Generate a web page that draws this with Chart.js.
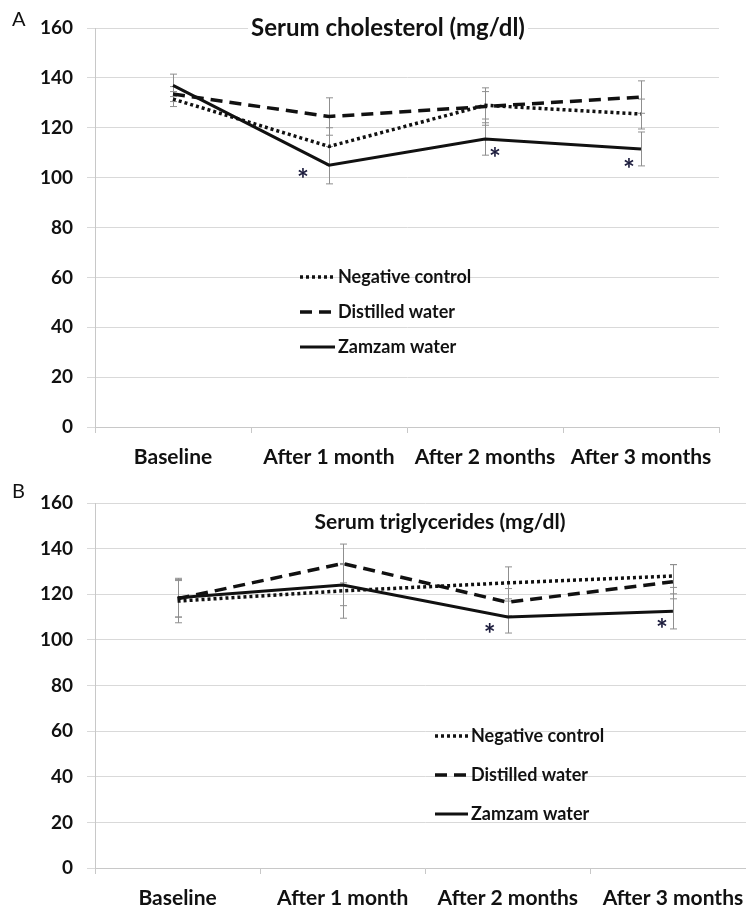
<!DOCTYPE html>
<html>
<head>
<meta charset="utf-8">
<script src="https://cdn.jsdelivr.net/npm/chart.js@4.4.1/dist/chart.umd.min.js"></script>
<style>
  html, body { margin: 0; padding: 0; background: #fff; }
  #wrap { position: relative; width: 746px; height: 909px; overflow: hidden; }
  canvas { position: absolute; left: 0; }
  #graficoA { top: 0; }
  #graficoB { top: 470px; }
</style>
</head>
<body>
<div id="wrap">
  <canvas id="graficoA" width="746" height="470"></canvas>
  <canvas id="graficoB" width="770" height="439"></canvas>
</div>
<script>
// categorias e escala
const categorias = ['Baseline', 'After 1 month', 'After 2 months', 'After 3 months'];
const yMin = 0;
const yMax = 160;
const yPasso = 20;
const series = ['Negative control', 'Distilled water', 'Zamzam water'];

// A - colesterol (mg/dl)
const colNegativo = [131.5, 112.5, 129, 125.5];
const colDestilada = [133.5, 124.5, 128.5, 132.3];
const colZamzam = [137, 105, 115.5, 111.5];
const colNegativoDp = [3, 7.5, 5.5, 6];
const colDestiladaDp = [3, 7.5, 7.5, 6.5];
const colZamzamDp = [4.5, 7.5, 6.5, 6.8];
const colSignificativo = [false, true, true, true];

// B - triglicerideos (mg/dl)
const trigNegativo = [117, 121.5, 125, 128];
const trigDestilada = [118, 133.5, 116.5, 125.5];
const trigZamzam = [118.5, 124, 110, 112.5];
const trigNegativoDp = [9.5, 12, 7, 5];
const trigDestiladaDp = [8, 8.5, 6, 7.5];
const trigZamzamDp = [8.5, 9, 7, 7.7];
const trigSignificativo = [false, false, true, true];

const FONTE = 'Lato, "Open Sans", sans-serif';
const PRETO = '#111111';

document.addEventListener('DOMContentLoaded', function() {

    const errorBars = {
        id: 'errorBars',
        beforeDatasetsDraw(chart) {
            const ctx = chart.ctx;
            const xs = chart.scales.x;
            const ys = chart.scales.y;
            ctx.save();
            ctx.strokeStyle = '#8f8f8f';
            ctx.lineWidth = 1;
            chart.data.datasets.forEach(ds => {
                ds.dp.forEach((dp, i) => {
                    const px = Math.round(xs.getPixelForValue(i)) + 0.5;
                    const topo = ys.getPixelForValue(ds.data[i] + dp);
                    const base = ys.getPixelForValue(ds.data[i] - dp);
                    ctx.beginPath();
                    ctx.moveTo(px, topo); ctx.lineTo(px, base);
                    ctx.moveTo(px - 3.5, topo); ctx.lineTo(px + 3.5, topo);
                    ctx.moveTo(px - 3.5, base); ctx.lineTo(px + 3.5, base);
                    ctx.stroke();
                });
            });
            ctx.restore();
        }
    };

    const textos = {
        id: 'textos',
        afterDraw(chart, args, o) {
            const ctx = chart.ctx;
            const xs = chart.scales.x;
            const ys = chart.scales.y;
            ctx.save();

            // letra do painel
            ctx.fillStyle = PRETO;
            ctx.font = '20px ' + FONTE;
            ctx.textAlign = 'left';
            ctx.textBaseline = 'middle';
            ctx.fillText(o.letra, 12, o.letraY);

            // titulo com fundo branco
            ctx.font = 'bold ' + o.tituloTam + 'px ' + FONTE;
            ctx.textAlign = 'center';
            const w = ctx.measureText(o.titulo).width;
            ctx.fillStyle = '#ffffff';
            ctx.fillRect(o.tituloX - w / 2 - 3, o.tituloY - 13, w + 6, 26);
            ctx.fillStyle = PRETO;
            ctx.fillText(o.titulo, o.tituloX, o.tituloY);

            // legenda
            chart.data.datasets.forEach((ds, i) => {
                const ly = o.legY[i];
                ctx.beginPath();
                ctx.setLineDash(ds.borderDash || []);
                ctx.lineWidth = ds.borderWidth;
                ctx.strokeStyle = ds.borderColor;
                ctx.moveTo(o.legX, ly);
                ctx.lineTo(o.legX + o.legLen, ly);
                ctx.stroke();
                ctx.setLineDash([]);
                ctx.font = 'bold 18px ' + FONTE;
                ctx.textAlign = 'left';
                ctx.fillStyle = PRETO;
                ctx.fillText(ds.label, o.legX + o.legLen + 3, ly);
            });

            // asteriscos
            const zamzam = chart.data.datasets[2];
            ctx.font = 'bold 28px ' + FONTE;
            ctx.textAlign = 'center';
            ctx.fillStyle = '#1b1b3c';
            o.signif.forEach((s, i) => {
                if (!s) return;
                const px = xs.getPixelForValue(i) + o.astDx[i];
                const py = ys.getPixelForValue(zamzam.data[i]) + o.astDy[i];
                ctx.fillText('*', px, py);
            });
            ctx.restore();
        }
    };

    function montarDatasets(neg, dest, zam, negDp, destDp, zamDp) {
        return [
            { label: series[0], data: neg, dp: negDp, borderColor: PRETO, borderWidth: 3.5, borderDash: [3, 3] },
            { label: series[1], data: dest, dp: destDp, borderColor: PRETO, borderWidth: 3.5, borderDash: [12, 7] },
            { label: series[2], data: zam, dp: zamDp, borderColor: PRETO, borderWidth: 3 }
        ];
    }

    function criarGrafico(id, datasets, cfg) {
        const ctx = document.getElementById(id).getContext('2d');
        return new Chart(ctx, {
            type: 'line',
            data: { labels: categorias, datasets: datasets },
            options: {
                responsive: false,
                animation: false,
                devicePixelRatio: 1,
                layout: { padding: { top: cfg.padTop, right: cfg.padRight, left: 0, bottom: 0 } },
                elements: {
                    point: { radius: 0 },
                    line: { tension: 0, fill: false, borderCapStyle: 'butt' }
                },
                plugins: {
                    legend: { display: false },
                    tooltip: { enabled: false },
                    textos: cfg.textos
                },
                scales: {
                    x: {
                        offset: true,
                        grid: { offset: true, drawOnChartArea: false, tickLength: 6, color: '#c8c8c8' },
                        border: { color: '#c8c8c8' },
                        ticks: { padding: 12, maxRotation: 0, autoSkip: false, color: PRETO,
                                 font: { family: FONTE, weight: 'bold', size: 21 } },
                        afterFit: s => { s.height = cfg.xAltura; }
                    },
                    y: {
                        min: yMin,
                        max: yMax,
                        grid: { color: '#d9d9d9', tickLength: 8 },
                        border: { color: '#c8c8c8' },
                        ticks: { stepSize: yPasso, padding: 14, color: PRETO,
                                 font: { family: FONTE, weight: 'bold', size: 19 } },
                        afterFit: s => { s.width = 95; }
                    }
                }
            },
            plugins: [errorBars, textos]
        });
    }

    criarGrafico('graficoA',
        montarDatasets(colNegativo, colDestilada, colZamzam, colNegativoDp, colDestiladaDp, colZamzamDp),
        {
            padTop: 28, padRight: 27, xAltura: 43,
            textos: {
                letra: 'A', letraY: 20,
                titulo: 'Serum cholesterol (mg/dl)', tituloTam: 24, tituloX: 388, tituloY: 28,
                legX: 300, legLen: 35, legY: [277, 312, 347],
                signif: colSignificativo,
                astDx: [0, -26, 10, -12], astDy: [0, 15, 20, 21]
            }
        });

    criarGrafico('graficoB',
        montarDatasets(trigNegativo, trigDestilada, trigZamzam, trigNegativoDp, trigDestiladaDp, trigZamzamDp),
        {
            padTop: 33, padRight: 14.5, xAltura: 41,
            textos: {
                letra: 'B', letraY: 22,
                titulo: 'Serum triglycerides (mg/dl)', tituloTam: 21, tituloX: 440, tituloY: 52,
                legX: 435, legLen: 33, legY: [266, 305, 344],
                signif: trigSignificativo,
                astDx: [0, 0, -18, -11], astDy: [0, 0, 18, 19]
            }
        });
});
</script>
</body>
</html>
